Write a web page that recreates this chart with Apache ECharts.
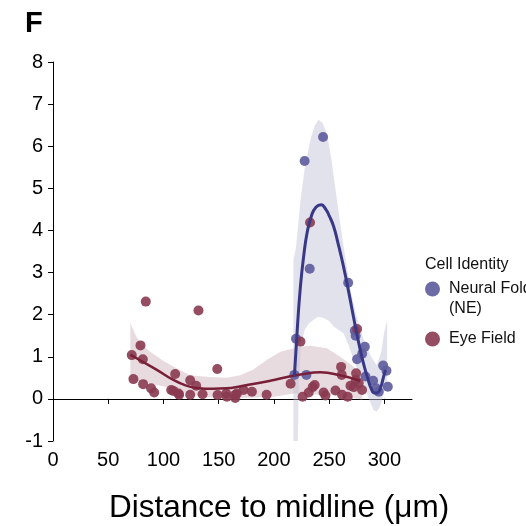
<!DOCTYPE html>
<html>
<head>
<meta charset="utf-8">
<script src="https://cdn.jsdelivr.net/npm/echarts@6/dist/echarts.min.js"></script>
<style>html,body{margin:0;padding:0;background:#fff}#c{width:526px;height:526px}</style>
</head>
<body>
<div id="c"></div>
<script>
// ---- data ----
var xTicks = [0, 50, 100, 150, 200, 250, 300];
var yTicks = [-1, 0, 1, 2, 3, 4, 5, 6, 7, 8];

var neuralFoldPoints = [
  [244.5, 6.22], [227.8, 5.65], [232.4, 3.09], [267.2, 2.76], [220, 1.43],
  [273.2, 1.62], [274.0, 1.50], [282.3, 1.24], [275.3, 0.94], [279.9, 1.07],
  [229.4, 0.57], [218.5, 0.57], [298.9, 0.79], [301.9, 0.67], [303.1, 0.29],
  [289.8, 0.43], [292.5, 0.25], [294.9, 0.17], [282.9, 0.53]
];

var eyeFieldPoints = [
  [84, 2.31], [131.7, 2.10], [71.3, 1.04], [79.2, 1.27], [81.3, 0.94],
  [72.8, 0.47], [81.6, 0.35], [88.8, 0.25], [91.6, 0.15], [110.6, 0.59],
  [124.2, 0.44], [129.6, 0.31], [107, 0.21], [109, 0.19], [113.6, 0.13],
  [114.2, 0.10], [124.2, 0.10], [135.4, 0.11], [148.7, 0.71], [149, 0.09],
  [156.8, 0.13], [157.4, 0.05], [165, 0.10], [165, 0.02], [166.5, 0.13],
  [172.5, 0.21], [180.1, 0.17], [193.4, 0.10], [215.1, 0.36], [224, 1.36],
  [232.7, 4.19], [275.3, 1.66], [260.8, 0.76], [261.4, 0.57], [274.4, 0.61],
  [274.1, 0.45], [276.8, 0.37], [269.3, 0.31], [272.3, 0.28], [279.8, 0.21],
  [236.9, 0.33], [235.1, 0.28], [231.5, 0.15], [226, 0.05], [245, 0.15],
  [246.6, 0.08], [255.7, 0.20], [261.7, 0.10], [266.8, 0.05]
];

var neuralFoldFit = [
  [218.5, 0.53], [221, 1.6], [224, 2.67], [227, 3.4], [230, 3.94], [234, 4.35],
  [238, 4.55], [242.7, 4.61], [247, 4.5], [250, 4.35], [254, 4.1], [258, 3.7],
  [263, 3.14], [268, 2.5], [272, 1.95], [277, 1.3], [281, 0.85], [285, 0.48],
  [288, 0.25], [291, 0.14], [294, 0.15], [297, 0.3], [299, 0.5], [301, 0.69]
];

var eyeFieldFit = [
  [70, 1.05], [80, 0.9], [94, 0.69], [109, 0.45], [120, 0.32], [130, 0.26],
  [145, 0.24], [157, 0.25], [170, 0.3], [185, 0.37], [200, 0.45], [212, 0.52],
  [224, 0.58], [242, 0.63], [260, 0.56], [278, 0.43]
];

var neuralFoldUpper = [
  [217.6, 3.3], [220, 3.6], [224, 4.7], [228, 5.5], [233, 6.15], [237, 6.5],
  [240.5, 6.63], [244, 6.55], [248, 6.3], [252, 5.7], [257, 4.73], [262, 3.8],
  [266, 3.14], [270, 2.5], [275, 1.95], [280, 1.5], [284, 1.24], [288, 1.0],
  [293, 0.8], [297, 1.1], [300, 1.6], [302.5, 1.88]
];
var neuralFoldLower = [
  [217.6, -2.0], [221, -2.0], [222.5, 0.3], [224.5, 1.3], [228, 1.65], [232, 1.8],
  [236, 1.88], [240, 1.95], [245, 1.92], [250, 1.85], [254, 1.72], [263, 1.56],
  [268, 1.25], [272, 0.93], [277, 0.6], [281, 0.37], [286, 0.0], [290, -0.26],
  [293, -0.3], [296, -0.19], [299, 0.1], [302.5, 0.45]
];

var eyeFieldUpper = [
  [70, 1.8], [75, 1.5], [80, 1.3], [88, 1.12], [100, 0.9], [109, 0.77],
  [124, 0.56], [142, 0.52], [157, 0.5], [169.5, 0.56], [181, 0.69],
  [193.7, 0.93], [206, 1.12], [224, 1.24], [233, 1.26], [248, 1.2],
  [260, 1.0], [272, 0.77], [280, 0.45]
];
var eyeFieldLower = [
  [70, 0.45], [80, 0.42], [90, 0.35], [100, 0.3], [110, 0.22], [125, 0.1],
  [140, 0.04], [160, 0.02], [180, 0.03], [200, 0.05], [218, 0.13], [240, 0.1],
  [260, 0.08], [270, 0.03], [280, -0.02]
];

// ---- chart ----
var FONT = '"Liberation Sans", Arial, sans-serif';

function bandSeries(upper, lower, color) {
  return {
    type: 'custom',
    silent: true,
    clip: true,
    z: 1,
    data: [0],
    renderItem: function (params, api) {
      var pts = [];
      for (var i = 0; i < upper.length; i++) pts.push(api.coord(upper[i]));
      for (var j = lower.length - 1; j >= 0; j--) pts.push(api.coord(lower[j]));
      return {
        type: 'polygon',
        shape: { points: pts },
        style: { fill: color }
      };
    }
  };
}

var chart = echarts.init(document.getElementById('c'), null, { renderer: 'canvas' });
chart.setOption({
  animation: false,
  backgroundColor: '#ffffff',
  title: [
    { text: 'F', left: 25, top: 9, padding: 0,
      textStyle: { fontFamily: FONT, fontSize: 29, fontWeight: 'bold', color: '#000' } },
    { text: 'Cell Identity', left: 425, top: 257, padding: 0,
      textStyle: { fontFamily: FONT, fontSize: 16, fontWeight: 'normal', color: '#111' } }
  ],
  legend: {
    orient: 'vertical',
    left: 425,
    top: 259,
    padding: 0,
    itemWidth: 15,
    itemHeight: 15,
    itemGap: 10,
    icon: 'circle',
    textStyle: { fontFamily: FONT, fontSize: 16, color: '#111', lineHeight: 20, padding: [0, 0, 0, 4] },
    formatter: function (name) {
      return name === 'Neural Fold (NE)' ? '\nNeural Fold\n(NE)' : name;
    },
    data: ['Neural Fold (NE)', 'Eye Field']
  },
  grid: { left: 53, right: 114, top: 62, bottom: 85, containLabel: false },
  xAxis: {
    type: 'value', min: 0, max: 325, interval: 50,
    axisLine: { show: true, lineStyle: { color: '#000', width: 1 } },
    axisTick: { show: true, length: 5, lineStyle: { color: '#000' }, customValues: xTicks },
    axisLabel: { fontFamily: FONT, fontSize: 20, color: '#000', margin: 9, customValues: xTicks },
    splitLine: { show: false }
  },
  yAxis: {
    type: 'value', min: -1, max: 8, interval: 1,
    axisLine: { show: true, lineStyle: { color: '#000', width: 1 } },
    axisTick: { show: true, length: 5, lineStyle: { color: '#000' }, customValues: yTicks },
    axisLabel: { fontFamily: FONT, fontSize: 20, color: '#000', margin: 10, customValues: yTicks },
    splitLine: { show: false }
  },
  graphic: [
    { type: 'text', left: 109, top: 492,
      style: { text: 'Distance to midline (μm)', fontFamily: FONT, fontSize: 31.5, fill: '#000' } }
  ],
  series: [
    bandSeries(eyeFieldUpper, eyeFieldLower, 'rgba(205,175,185,0.45)'),
    bandSeries(neuralFoldUpper, neuralFoldLower, 'rgba(190,190,215,0.45)'),
    {
      name: 'Neural Fold (NE)', type: 'scatter', data: neuralFoldPoints,
      symbolSize: 10, z: 3,
      itemStyle: { color: '#5f5e9e', opacity: 0.92 }
    },
    {
      name: 'Eye Field', type: 'scatter', data: eyeFieldPoints,
      symbolSize: 10, z: 3,
      itemStyle: { color: '#8a3a50', opacity: 0.9 }
    },
    {
      type: 'line', data: eyeFieldFit, smooth: true, showSymbol: false, z: 4,
      lineStyle: { color: '#7a1f38', width: 2.5 }, silent: true
    },
    {
      type: 'line', data: neuralFoldFit, smooth: true, showSymbol: false, z: 5,
      lineStyle: { color: '#383887', width: 3 }, silent: true
    }
  ]
});
</script>
</body>
</html>
